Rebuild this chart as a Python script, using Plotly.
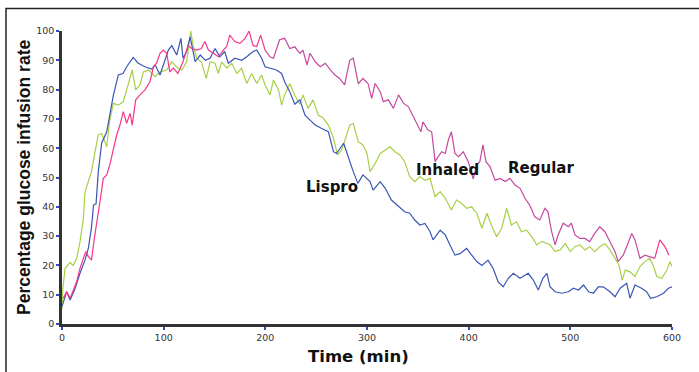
import plotly.graph_objects as go

# ---------------- data ----------------
lispro_t = [0, 4.6, 8, 12.8, 17.7, 22.6, 26, 29, 31, 33.5, 35.7, 39, 44, 47, 50.5, 55.4, 60, 63.6, 70, 75,
            81.6, 88, 91.7, 96.4, 101, 104.6, 108, 112.8, 117, 119, 122.6, 126, 131, 136, 141, 145.6, 150.5,
            155.4, 160, 163.6, 170, 176.7, 181.7, 188, 191.5, 196.4, 199.7, 206, 211, 216, 219, 224, 229,
            234, 239, 244, 249, 255, 262, 267, 270, 277, 282, 286.5, 291, 296, 303, 306, 313, 318, 324,
            331, 337, 342, 347, 352, 357, 362, 365, 372, 377, 381.6, 386.5, 391.5, 398, 403, 408, 413, 419,
            424, 429, 434, 439, 444, 450.5, 458.6, 463.6, 468.5, 473, 477, 480, 485, 491.5, 498, 503, 508,
            513, 518, 522.6, 527.5, 532.4, 539, 544, 549, 555.4, 558.7, 563.6, 570, 575, 579, 585, 591.6,
            596.5, 600]
lispro_v = [6, 11, 8.2, 12, 17.3, 21.8, 26, 33, 40.6, 41, 52, 61.7, 65.6, 71, 78, 85, 85.5, 87.8, 91, 89,
            87.8, 87, 88.4, 85, 89.6, 93.5, 95, 91.8, 97.5, 90.7, 93, 98, 89.5, 91.8, 90, 90.7, 94,
            91.2, 93, 89, 90.7, 90, 91.2, 93, 93.5, 90.7, 87.8, 87.3, 86.7, 85.5, 82.7, 79.3, 75,
            76.5, 71.3, 69.6, 67.9, 66.8, 65.6, 58.8, 58.2, 61.7, 56.5, 52, 48, 50.9, 48.6, 45.7, 48.6, 46.3, 42.3,
            40, 38.3, 37.8, 35.5, 33.8, 34.3, 31.5, 28.7, 32, 30.4, 27, 23.5, 24, 25.8, 23.5, 21.3, 20, 21.8,
            19, 14.4, 12.7, 15.6, 17.3, 15.6, 17.3, 15, 11.6, 15.6, 17.3, 12.7, 11, 10.5, 11, 12.2, 11.6,
            13.3, 11, 10.5, 12.7, 12.7, 11, 9.3, 12.2, 13.9, 8.8, 13.3, 12.2, 11, 8.8, 9.3, 10.5,
            12.2, 12.7]

inhaled_t = [0, 0.8, 3, 8, 11, 14.4, 17.7, 21, 22.6, 26, 29, 32.5, 35.7, 39, 44, 47, 50.5, 55.4, 60.3, 65,
             69, 72.5, 76.7, 80, 85, 91.5, 96.4, 103, 108, 114, 118, 122.6, 126.6, 129, 132.5, 137, 142,
             145.6, 150.5, 153.7, 157, 162, 167, 172, 176.7, 181.7, 186.6, 191.5, 196.4, 199.7, 204.6, 208,
             213, 216, 219, 224, 229, 234, 237, 242, 247, 252, 257, 262, 267, 271, 275, 280, 283, 286.5,
             291.4, 296, 300, 303, 308, 313, 318, 322.6, 327.5, 332.4, 337, 342, 347, 352, 357, 362, 367,
             372, 377, 383, 388, 393, 398, 403, 408, 413, 418, 423, 427.5, 432.5, 437.4, 442, 447, 452,
             457, 462, 467, 472, 477, 480, 485, 490, 495, 500, 504.6, 509.5, 514.4, 519, 524, 529, 534,
             539, 544, 548, 551, 554, 558.7, 563.6, 568.5, 573.4, 578, 581.6, 585, 590, 595, 598, 600]
inhaled_v = [5.3, 12, 19, 21, 20, 22.4, 28, 36, 45, 48.6, 52, 58.8, 64.5, 65, 60.5, 69.6, 75.3, 74.7, 75.9, 81.6,
             86.7, 79.9, 81.6, 86, 86.7, 84.4, 86, 86.7, 89.5, 87.3, 86.7, 89.5, 100, 95, 90.7, 89.5, 83.8,
             89.5, 89, 85.5, 89.5, 87.3, 89, 85.5, 87.3, 82.1, 85.5, 82.1, 85, 81.6, 78.2, 83.3,
             79.9, 74.7, 78.2, 82.1, 78, 75, 78.2, 73.6, 76.5, 71.3, 70.2, 67.9, 63.4, 57.7, 59.4, 64.5, 67.9, 68.5,
             62.2, 61.1, 58.2, 52, 54.8, 58.2, 59.4, 60.5, 58.8, 57.7, 55.4, 50.3, 48.6, 50.3, 49, 49.7, 43.5,
             45.2, 42.9, 38.9, 42.3, 41.2, 39.5, 40, 37.8, 32.7, 37.8, 33.2, 29.8, 32.7, 39.5, 33.8, 34.9, 31.5,
             32, 29.8, 27, 28.2, 27.5, 27, 24.7, 25.3, 27.5, 24.7, 26.4, 27, 25.3, 26.4, 24.7, 26.4, 27.5,
             25.3, 22.4, 20, 15, 18.4, 17.8, 16.2, 19.6, 21.3, 22.4, 20, 16.2, 15.6, 18.4, 21.3, 19.6]

regular_t = [1.3, 4.6, 8, 11, 14.4, 17.7, 21, 23.3, 26, 29, 31.8, 34, 37.4, 40.6, 44, 47, 50.5, 53.8, 57, 60.3,
             63.6, 67, 69, 72.5, 76.7, 81.6, 86.5, 90, 93, 96.4, 99.6, 103, 106, 109.5, 114, 119, 124, 127.5,
             132.5, 137, 140.6, 144, 149, 153.7, 158.7, 162, 165, 170, 175, 180, 184, 188, 191.5, 195.4,
             199.7, 204.6, 208, 214, 219, 224, 229, 234, 237, 241, 244, 249, 254, 259, 264, 268.5, 273, 278,
             283, 286.5, 291.4, 296, 301, 304.6, 308, 313, 316, 321, 326, 331, 336, 340.6, 345.6, 350, 353,
             355, 360, 363.6, 367, 370, 373.5, 377, 380, 383, 386.5, 390, 394.7, 399.6, 404.5, 408, 411, 414,
             417, 421, 426, 431, 436, 440.6, 445.6, 450.5, 455.4, 460, 465, 470, 475, 478, 481.6, 485, 488,
             493, 498, 501, 504.6, 509.5, 514.4, 519, 524, 529, 534, 539, 544, 547, 552, 555.4, 560.4, 563.6,
             568.5, 573.4, 578, 583, 588, 593, 597]
regular_v = [8.8, 11, 8.8, 11.6, 14.4, 19, 22.4, 24.7, 23, 21.8, 29.2, 33.8, 41.8, 49.7, 50.9, 54.3, 59.4, 64.5, 67.9, 72.5,
             68.5, 71.9, 67.9, 76.5, 78.2, 79.9, 82.7, 87.8, 89, 92.4, 93.5, 92.4, 86, 87.3, 85.5, 89.5, 95, 94,
             93.5, 94, 96.4, 93.5, 92.4, 91.2, 93.5, 94.7, 98.6, 96.4, 95.8, 97.5, 100, 95, 94.7, 98.6,
             93.5, 91.2, 90.7, 97, 97.5, 94, 94.6, 92.4, 93.5, 88.4, 92.4, 89.5, 87.8, 89, 86.7, 85, 83.8, 81.6,
             90, 90.7, 82, 83.8, 82.1, 77, 82.1, 79.3, 75.9, 76.5, 73.6, 78.2, 75.3, 74.2, 70.8, 67.9, 65.6,
             69, 66.2, 65.6, 55.4, 57.1, 58.8, 58.2, 62.8, 65.6, 58.2, 57.1, 58.8, 55.4, 49.5, 54.3, 55.4, 61.1,
             55.4, 53.7, 49.1, 49.7, 48.6, 49.7, 47.4, 46.3, 42.9, 40.6, 36.6, 35.5, 39.5, 38.3, 31.5, 27, 30.4,
             34.4, 33.2, 34.4, 30.4, 29.2, 29.2, 28.1, 30.9, 33.2, 31.5, 28.1, 24.7, 21.3, 23.5, 26.4, 30.9, 28.7,
             22.4, 23.5, 23, 22.4, 28.7, 26.4, 23.5]

x_ticks = [0, 100, 200, 300, 400, 500, 600]
y_ticks = [0, 10, 20, 30, 40, 50, 60, 70, 80, 90, 100]
labels = ["Lispro", "Inhaled", "Regular"]
label_t = [266, 379, 471]
label_v = [46.8, 52.6, 53.4]

# ---------------- styling ----------------
BLUE = "#3a56b6"
GREEN = "#a7d047"
PINK = "#f5358c"
MAGENTA = "#c5499f"
W = 1.2

fig = go.Figure()
fig.add_trace(go.Scatter(x=inhaled_t, y=inhaled_v, mode="lines", line=dict(color=GREEN, width=W), name="Inhaled"))
fig.add_trace(go.Scatter(x=lispro_t, y=lispro_v, mode="lines", line=dict(color=BLUE, width=W), name="Lispro"))

# Regular line changes hue along its length in the original
i1 = next(i for i, t in enumerate(regular_t) if t >= 199.7)
i2 = next(i for i, t in enumerate(regular_t) if t >= 583)
fig.add_trace(go.Scatter(x=regular_t[:i1 + 1], y=regular_v[:i1 + 1], mode="lines", line=dict(color=PINK, width=W)))
fig.add_trace(go.Scatter(x=regular_t[i1:i2 + 1], y=regular_v[i1:i2 + 1], mode="lines", line=dict(color=MAGENTA, width=W)))
fig.add_trace(go.Scatter(x=regular_t[i2:], y=regular_v[i2:], mode="lines", line=dict(color=PINK, width=W)))

for txt, t, v in zip(labels, label_t, label_v):
    fig.add_annotation(x=t, y=v, text="<b>" + txt + "</b>", showarrow=False,
                       font=dict(family="DejaVu Sans", size=15, color="#111"),
                       xanchor="center", yanchor="middle")

# plot area geometry (pixels)
L, R, T, B = 62, 672, 31, 324
Wd, Ht = 699, 372

def px(x):
    return (x - L) / (R - L)

def py(y):
    return (B - y) / (B - T)

fig.add_annotation(xref="paper", yref="paper", x=px(24), y=py(178), text="<b>Percentage glucose infusion rate</b>",
                   textangle=-90, showarrow=False, font=dict(family="Liberation Sans", size=17.5, color="#111"),
                   xanchor="center", yanchor="middle")
fig.add_annotation(xref="paper", yref="paper", x=px(358), y=py(356), text="<b>Time (min)</b>",
                   showarrow=False, font=dict(family="DejaVu Sans", size=16.5, color="#111"),
                   xanchor="center", yanchor="middle")

# outer frame
fig.add_shape(type="rect", xref="paper", yref="paper", x0=px(6), y0=py(8.5), x1=px(720), y1=py(400),
              line=dict(color="#222", width=1.5), layer="above")

fig.update_layout(
    width=Wd, height=Ht, autosize=False,
    margin=dict(l=L, r=Wd - R, t=T, b=Ht - B, pad=0),
    paper_bgcolor="white", plot_bgcolor="white",
    showlegend=False,
    font=dict(family="DejaVu Sans", size=9.5, color="#333"),
)
fig.update_xaxes(range=[0, 600], tickvals=x_ticks, ticktext=[str(v) for v in x_ticks],
                 showgrid=False, zeroline=False, showline=True, linecolor="#333", linewidth=2.5,
                 ticks="outside", ticklen=3, tickwidth=2, tickcolor="#3050c0",
                 tickfont=dict(family="DejaVu Sans", size=9.5, color="#333"))
fig.update_yaxes(range=[0, 100], tickvals=y_ticks, ticktext=[str(v) for v in y_ticks],
                 showgrid=False, zeroline=False, showline=True, linecolor="#333", linewidth=2.5,
                 ticks="outside", ticklen=3, tickwidth=2, tickcolor="#3050c0",
                 tickfont=dict(family="DejaVu Sans", size=9.5, color="#333"))

fig.write_html("out.html", config={"displayModeBar": False},
               post_script="document.body.style.margin='0px';document.body.style.overflow='hidden';")
